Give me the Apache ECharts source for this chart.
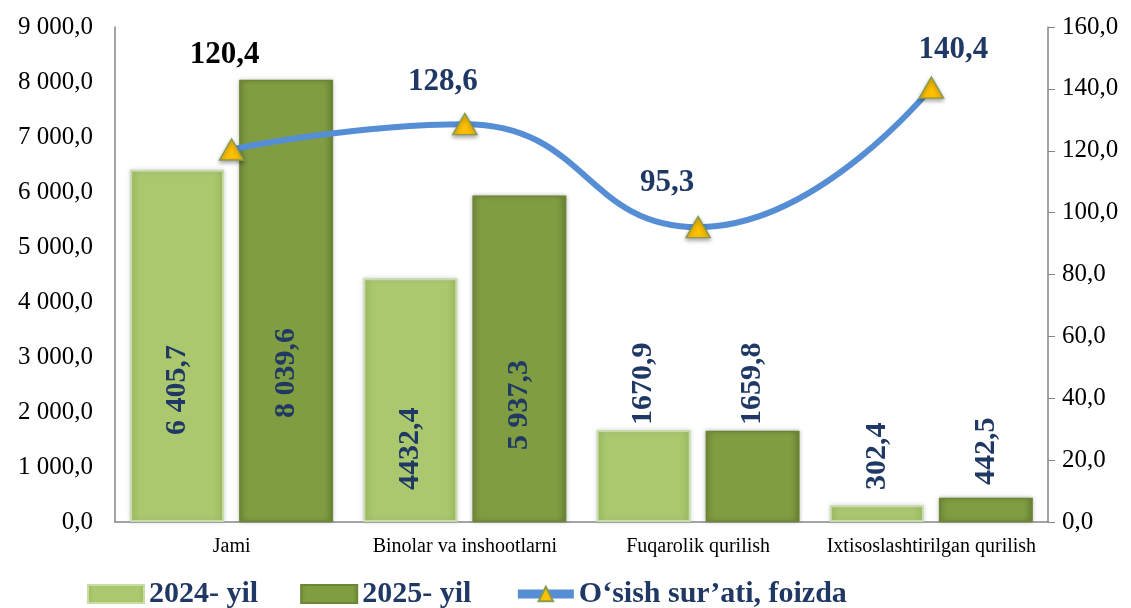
<!DOCTYPE html>
<html><head><meta charset="utf-8">
<script src="https://cdn.jsdelivr.net/npm/echarts@6/dist/echarts.min.js"></script>
<style>html,body{margin:0;padding:0;background:#fff}#c{width:1131px;height:608px}</style>
</head><body><div id="c"></div>
<script>
const categories = ['Jami', 'Binolar va inshootlarni', 'Fuqarolik qurilish', 'Ixtisoslashtirilgan qurilish'];
const values2024 = [6405.7, 4432.4, 1670.9, 302.4];
const values2025 = [8039.6, 5937.3, 1659.8, 442.5];
const labels2024 = ['6 405,7', '4432,4', '1670,9', '302,4'];
const labels2025 = ['8 039,6', '5 937,3', '1659,8', '442,5'];
const growth = [120.4, 128.6, 95.3, 140.4];
const growthLabels = ['120,4', '128,6', '95,3', '140,4'];
const seriesNames = ['2024- yil', '2025- yil', 'O‘sish sur’ati, foizda'];

// styling (label lifts from baseline, line-label offsets)
const lift2024 = [87, 32, 97, 32];
const lift2025 = [104, 72, 97, 37];
const growthOffsets = [[-7, -95], [-22, -42], [-31, -44], [22, -38]];
const growthColors = ['#000000', '#1F3864', '#1F3864', '#1F3864'];

const FONT = "'Liberation Serif','Times New Roman',serif";
const NAVY = '#1F3864';

function fmtAxis(v, dec) {
  const s = v.toFixed(dec).split('.');
  const intp = s[0].replace(/\B(?=(\d{3})+(?!\d))/g, ' ');
  return intp + ',' + s[1];
}

function barData(vals, labs, lifts) {
  return vals.map((v, i) => ({
    value: v,
    label: { distance: lifts[i], formatter: labs[i] }
  }));
}

const chart = echarts.init(document.getElementById('c'));
chart.setOption({
  animation: false,
  grid: { left: 115, right: 83, top: 27, bottom: 86 },
  legend: {
    left: 82, top: 574,
    itemWidth: 56, itemHeight: 18, itemGap: 42,
    textStyle: { fontFamily: FONT, fontSize: 30, fontWeight: 'bold', color: NAVY },
    data: [
      { name: seriesNames[0], icon: 'rect' },
      { name: seriesNames[1], icon: 'rect' },
      { name: seriesNames[2] }
    ],
    lineStyle: { width: 9 }
  },
  xAxis: {
    type: 'category', data: categories,
    axisLine: { lineStyle: { color: '#868686', width: 1.5 } },
    axisTick: { show: false },
    axisLabel: { interval: 0, fontFamily: FONT, fontSize: 20, color: '#000', margin: 15 }
  },
  yAxis: [{
    type: 'value', min: 0, max: 9000, interval: 1000,
    axisLine: { show: true, lineStyle: { color: '#868686', width: 1.5 } },
    axisTick: { show: false },
    splitLine: { show: false },
    axisLabel: { fontFamily: FONT, fontSize: 25, color: '#000', margin: 22, formatter: v => fmtAxis(v, 1) }
  }, {
    type: 'value', min: 0, max: 160, interval: 20,
    axisLine: { show: true, lineStyle: { color: '#868686', width: 1.5 } },
    axisTick: { show: true, inside: false, length: 7, lineStyle: { color: '#868686' } },
    splitLine: { show: false },
    axisLabel: { fontFamily: FONT, fontSize: 25, color: '#000', margin: 14, formatter: v => fmtAxis(v, 1) }
  }],
  series: [{
    name: seriesNames[0], type: 'bar',
    data: barData(values2024, labels2024, lift2024),
    barGap: '16%', barCategoryGap: '13%',
    itemStyle: {
      color: new echarts.graphic.LinearGradient(0, 0, 1, 0, [
        { offset: 0, color: '#9DBD5C' }, { offset: 0.12, color: '#ABC86E' },
        { offset: 0.88, color: '#ABC86E' }, { offset: 1, color: '#9DBD5C' }]),
      borderColor: '#C9DCA6', borderWidth: 2,
      shadowColor: 'rgba(120,140,170,0.35)', shadowBlur: 4
    },
    label: {
      show: true, position: 'insideBottom', rotate: 90, align: 'left', verticalAlign: 'middle',
      fontFamily: FONT, fontSize: 30, fontWeight: 'bold', color: NAVY
    }
  }, {
    name: seriesNames[1], type: 'bar',
    data: barData(values2025, labels2025, lift2025),
    itemStyle: {
      color: new echarts.graphic.LinearGradient(0, 0, 1, 0, [
        { offset: 0, color: '#768F3A' }, { offset: 0.1, color: '#809D42' },
        { offset: 0.9, color: '#809D42' }, { offset: 1, color: '#6E8736' }]),
      borderColor: '#6D8633', borderWidth: 1.5,
      shadowColor: 'rgba(0,0,0,0.25)', shadowBlur: 4
    },
    label: {
      show: true, position: 'insideBottom', rotate: 90, align: 'left', verticalAlign: 'middle',
      fontFamily: FONT, fontSize: 30, fontWeight: 'bold', color: NAVY
    }
  }, {
    name: seriesNames[2], type: 'line', yAxisIndex: 1,
    smooth: 0.5, z: 5,
    data: growth.map((v, i) => ({
      value: v,
      label: { offset: growthOffsets[i], color: growthColors[i], formatter: growthLabels[i] }
    })),
    lineStyle: { color: '#558ED5', width: 6 },
    symbol: 'triangle', symbolSize: [24, 21],
    itemStyle: { color: '#FFC000', borderColor: '#8A9B4E', borderWidth: 1.5,
      shadowColor: 'rgba(0,0,0,0.35)', shadowBlur: 4, shadowOffsetY: 2 },
    label: {
      show: true, position: 'inside',
      fontFamily: FONT, fontSize: 31, fontWeight: 'bold'
    }
  }]
});
</script></body></html>
